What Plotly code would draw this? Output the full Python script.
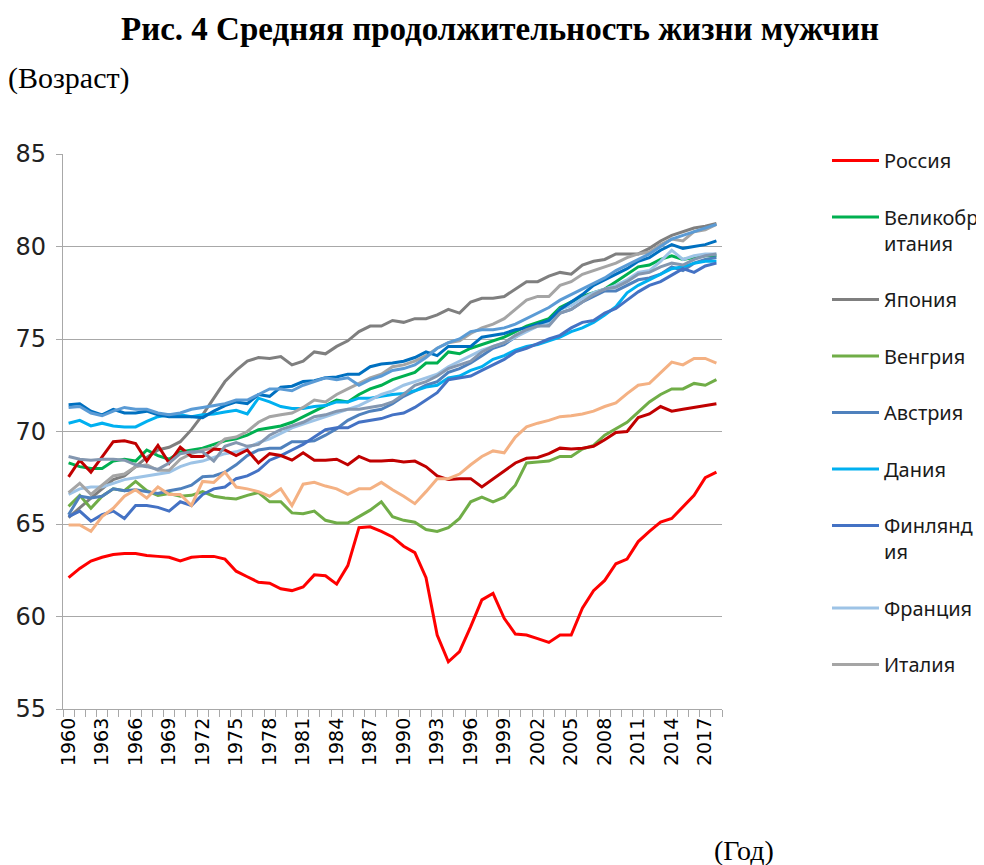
import plotly.graph_objects as go

years = list(range(1960, 2019))

russia = [62.1, 62.6, 63.0, 63.2, 63.35, 63.4, 63.4, 63.3, 63.25, 63.2,
          63.0, 63.2, 63.25, 63.25, 63.1, 62.45, 62.15, 61.85, 61.8, 61.5,
          61.4, 61.6, 62.25, 62.2, 61.75, 62.75, 64.8, 64.85, 64.6, 64.3,
          63.8, 63.45, 62.1, 59.0, 57.55, 58.1, 59.45, 60.9, 61.25, 59.9,
          59.05, 59.0, 58.8, 58.6, 59.0, 59.0, 60.45, 61.4, 61.95, 62.85,
          63.1, 64.05, 64.6, 65.1, 65.3, 65.9, 66.55, 67.5, 67.8]
uk = [68.3, 68.1, 68.0, 68.0, 68.4, 68.5, 68.4, 69.0, 68.7, 68.5,
      68.9, 69.0, 69.1, 69.3, 69.5, 69.6, 69.8, 70.1, 70.2, 70.3,
      70.5, 70.8, 71.1, 71.4, 71.7, 71.6, 72.0, 72.3, 72.5, 72.8,
      73.0, 73.2, 73.7, 73.7, 74.3, 74.2, 74.5, 74.7, 74.9, 75.1,
      75.4, 75.7, 75.9, 76.1, 76.7, 77.0, 77.3, 77.5, 77.7, 78.1,
      78.5, 78.9, 79.0, 79.3, 79.5, 79.3, 79.4, 79.5, 79.5]
japan = [65.35, 65.9, 66.4, 66.9, 67.4, 67.6, 68.1, 68.6, 69.0, 69.15,
         69.45, 70.1, 70.9, 71.8, 72.7, 73.3, 73.8, 74.0, 73.95, 74.05,
         73.6, 73.8, 74.3, 74.2, 74.6, 74.9, 75.4, 75.7, 75.7, 76.0,
         75.9, 76.1, 76.1, 76.3, 76.6, 76.4, 77.0, 77.2, 77.2, 77.3,
         77.7, 78.1, 78.1, 78.4, 78.6, 78.5, 79.0, 79.2, 79.3, 79.6,
         79.6, 79.6, 79.9, 80.3, 80.6, 80.8, 81.0, 81.1, 81.25]
hungary = [65.95, 66.55, 65.85, 66.5, 66.9, 66.8, 67.3, 66.8, 66.55, 66.65,
           66.5, 66.55, 66.75, 66.5, 66.4, 66.35, 66.55, 66.7, 66.2, 66.2,
           65.6, 65.55, 65.7, 65.2, 65.05, 65.05, 65.4, 65.75, 66.2, 65.4,
           65.2, 65.1, 64.7, 64.6, 64.8, 65.3, 66.2, 66.45, 66.2, 66.45,
           67.1, 68.3, 68.35, 68.4, 68.65, 68.65, 69.05, 69.25, 69.8, 70.15,
           70.5, 71.05, 71.6, 72.0, 72.3, 72.3, 72.6, 72.5, 72.8]
austria = [65.5, 66.5, 66.4, 66.5, 66.9, 66.8, 66.85, 66.75, 66.65, 66.8,
           66.9, 67.1, 67.55, 67.6, 67.8, 68.2, 68.7, 69.0, 69.1, 69.1,
           69.45, 69.45, 69.5, 69.8, 70.15, 70.6, 70.9, 71.1, 71.2, 71.5,
           71.9, 72.2, 72.5, 72.7, 73.2, 73.4, 73.7, 74.1, 74.5, 74.7,
           75.1, 75.5, 75.7, 75.8, 76.4, 76.6, 77.0, 77.3, 77.6, 77.6,
           77.9, 78.2, 78.3, 78.5, 78.9, 78.7, 79.1, 79.3, 79.4]
denmark = [70.45, 70.6, 70.3, 70.45, 70.3, 70.25, 70.25, 70.55, 70.8, 70.9,
           70.9, 70.8, 70.9, 70.95, 71.05, 71.15, 70.95, 71.8, 71.6, 71.35,
           71.25, 71.25, 71.35, 71.4, 71.6, 71.6, 71.8, 71.8, 71.9, 72.0,
           72.05, 72.2, 72.4, 72.5, 72.9, 73.0, 73.3, 73.5, 73.9, 74.1,
           74.4, 74.6, 74.7, 74.9, 75.1, 75.4, 75.6, 75.9, 76.3, 76.75,
           77.5, 77.9, 78.2, 78.5, 78.8, 78.9, 79.1, 79.2, 79.2]
finland = [65.4, 65.7, 65.15, 65.5, 65.7, 65.3, 66.0, 66.0, 65.9, 65.7,
           66.2, 66.0, 66.6, 66.9, 67.0, 67.45, 67.6, 67.9, 68.45, 68.7,
           69.0, 69.3, 69.7, 70.1, 70.2, 70.2, 70.5, 70.6, 70.7, 70.9,
           71.0, 71.3, 71.7, 72.1, 72.8, 72.9, 73.0, 73.3, 73.6, 73.9,
           74.3, 74.5, 74.75, 75.0, 75.2, 75.6, 75.9, 76.0, 76.4, 76.65,
           77.1, 77.55, 77.9, 78.1, 78.45, 78.8, 78.6, 78.95, 79.1]
france = [66.6, 66.9, 67.0, 67.0, 67.2, 67.4, 67.5, 67.6, 67.7, 67.8,
          68.1, 68.3, 68.4, 68.6, 68.8, 68.9, 69.1, 69.4, 69.6, 69.9,
          70.2, 70.4, 70.6, 70.8, 71.0, 71.2, 71.4, 71.7, 72.0, 72.2,
          72.5, 72.7, 72.9, 73.1, 73.5, 73.8, 74.1, 74.4, 74.6, 74.8,
          75.1, 75.4, 75.7, 75.9, 76.6, 76.8, 77.2, 77.5, 77.7, 77.9,
          78.2, 78.6, 78.7, 79.2, 79.8, 79.3, 79.5, 79.6, 79.6]
italy = [66.7, 67.2, 66.6, 67.1, 67.6, 67.7, 68.1, 68.2, 67.9, 67.9,
         68.5, 68.8, 69.0, 69.1, 69.6, 69.7, 70.0, 70.5, 70.8, 70.9,
         71.0, 71.3, 71.7, 71.6, 72.0, 72.3, 72.6, 72.9, 73.1, 73.5,
         73.6, 73.8, 74.1, 74.5, 74.8, 74.9, 75.3, 75.6, 75.8, 76.1,
         76.6, 77.1, 77.3, 77.3, 77.9, 78.1, 78.5, 78.7, 78.9, 79.1,
         79.4, 79.6, 79.7, 80.1, 80.4, 80.3, 80.8, 80.9, 81.2]
bulgaria = [67.55, 68.45, 67.8, 68.6, 69.45, 69.5, 69.35, 68.4, 69.25, 68.3,
            69.15, 68.65, 68.65, 69.05, 69.0, 68.7, 69.0, 68.3, 68.8, 68.7,
            68.45, 68.85, 68.45, 68.45, 68.5, 68.2, 68.65, 68.4, 68.4, 68.45,
            68.35, 68.4, 68.1, 67.6, 67.4, 67.45, 67.45, 67.0, 67.45, 67.9,
            68.3, 68.55, 68.6, 68.8, 69.1, 69.05, 69.1, 69.2, 69.55, 69.95,
            70.0, 70.75, 70.95, 71.35, 71.1, 71.2, 71.3, 71.4, 71.5]
poland = [64.95, 64.95, 64.6, 65.4, 65.85, 66.5, 66.85, 66.4, 67.0, 66.6,
          66.6, 66.0, 67.3, 67.25, 67.8, 67.0, 66.9, 66.75, 66.5, 66.9,
          66.0, 67.15, 67.25, 67.05, 66.9, 66.6, 66.9, 66.9, 67.25, 66.85,
          66.5, 66.1, 66.75, 67.45, 67.45, 67.7, 68.2, 68.65, 68.95, 68.85,
          69.7, 70.25, 70.45, 70.6, 70.8, 70.85, 70.95, 71.1, 71.35, 71.55,
          72.05, 72.5, 72.6, 73.15, 73.75, 73.6, 73.95, 73.95, 73.7]
netherlands = [71.45, 71.5, 71.1, 70.9, 71.2, 71.0, 71.0, 71.1, 70.9, 70.8,
               70.8, 70.8, 70.75, 71.1, 71.4, 71.6, 71.5, 72.0, 71.9, 72.4,
               72.45, 72.7, 72.75, 72.9, 72.95, 73.1, 73.1, 73.5, 73.65, 73.7,
               73.8, 74.0, 74.3, 74.1, 74.6, 74.6, 74.6, 75.1, 75.2, 75.3,
               75.5, 75.6, 75.8, 76.0, 76.6, 77.0, 77.4, 77.9, 78.2, 78.5,
               78.8, 79.2, 79.4, 79.8, 80.1, 79.9, 80.0, 80.1, 80.3]
sweden = [71.3, 71.35, 71.0, 70.85, 71.1, 71.3, 71.2, 71.2, 71.0, 70.9,
          71.0, 71.2, 71.3, 71.4, 71.5, 71.7, 71.7, 72.0, 72.3, 72.3,
          72.2, 72.5, 72.7, 72.9, 72.8, 72.9, 72.5, 72.8, 73.0, 73.3,
          73.4, 73.6, 74.0, 74.5, 74.8, 75.0, 75.4, 75.5, 75.5, 75.6,
          75.8, 76.1, 76.4, 76.7, 77.1, 77.4, 77.7, 78.0, 78.3, 78.7,
          79.0, 79.3, 79.6, 80.0, 80.4, 80.6, 80.8, 81.0, 81.2]
switzerland = [68.65, 68.5, 68.45, 68.5, 68.5, 68.45, 68.2, 68.1, 67.95, 68.3,
               68.8, 68.9, 68.9, 68.4, 69.2, 69.4, 69.2, 69.3, 69.8, 70.1,
               70.3, 70.5, 70.8, 70.9, 71.1, 71.2, 71.2, 71.3, 71.4, 71.6,
               72.0, 72.5, 72.7, 73.0, 73.4, 73.6, 73.8, 74.3, 74.6, 74.8,
               75.2, 75.5, 75.7, 75.7, 76.4, 76.6, 77.0, 77.4, 77.7, 77.8,
               78.1, 78.5, 78.6, 78.9, 79.1, 79.0, 79.3, 79.5, 79.6]

legend_series = [
    ("Россия", russia, "#FF0000"),
    ("Великобр<br>итания", uk, "#00B050"),
    ("Япония", japan, "#7F7F7F"),
    ("Венгрия", hungary, "#70AD47"),
    ("Австрия", austria, "#4F81BD"),
    ("Дания", denmark, "#00B0F0"),
    ("Финлянд<br>ия", finland, "#4472C4"),
    ("Франция", france, "#9DC3E6"),
    ("Италия", italy, "#A5A5A5"),
]
extra_series = [
    ("Болгария", bulgaria, "#C00000"),
    ("Польша", poland, "#F4B183"),
    ("Нидерланды", netherlands, "#0070C0"),
    ("Швеция", sweden, "#5B9BD5"),
    ("Швейцария", switzerland, "#8497B0"),
]

xtick_years = [1960, 1963, 1966, 1969, 1972, 1975, 1978, 1981, 1984, 1987,
               1990, 1993, 1996, 1999, 2002, 2005, 2008, 2011, 2014, 2017]

fig = go.Figure()
for name, vals, col in legend_series:
    fig.add_trace(go.Scatter(x=years, y=vals, mode="lines", name=name,
                             legendgroup=name,
                             line=dict(color=col, width=3)))
for name, vals, col in extra_series:
    fig.add_trace(go.Scatter(x=years, y=vals, mode="lines", name=name,
                             showlegend=False,
                             line=dict(color=col, width=3)))

# page body has an 8px offset; positions below are in figure coordinates
W, H = 984, 865
L, R, T, B = 55, 270, 146, 164
pw, ph = W - L - R, H - T - B

def px(xw):
    return (xw - 8 - L) / pw

def py(yw):
    return (H - B - (yw - 8)) / ph

grid = "#A8A8A8"
fig.update_layout(
    width=W, height=H,
    margin=dict(l=L, r=R, t=T, b=B, autoexpand=False),
    paper_bgcolor="white", plot_bgcolor="white",
    showlegend=True,
    title=dict(text="<b>Рис. 4 Средняя продолжительность жизни мужчин</b>",
               x=0.5, xanchor="center", y=1 - 20 / H, yanchor="middle",
               font=dict(family="Liberation Serif", size=33, color="black")),
    legend=dict(x=px(827), xanchor="left",
                y=py(684), yanchor="bottom",
                font=dict(family="Noto Sans", size=20, color="#1A1A1A"),
                tracegroupgap=27.5, valign="top", itemwidth=47,
                bgcolor="rgba(0,0,0,0)"),
    xaxis=dict(range=[1959.5, 2018.5], tickmode="array",
               tickvals=xtick_years, ticktext=[str(y) for y in xtick_years],
               tickangle=-90, ticks="", showgrid=False, zeroline=False,
               showline=True, linecolor=grid, linewidth=1.3,
               tickfont=dict(family="DejaVu Sans", size=19, color="black"),
               minor=dict(ticks="outside", tickmode="linear", tick0=1959.5,
                          dtick=1, ticklen=7, tickcolor=grid, tickwidth=1,
                          showgrid=False)),
    yaxis=dict(range=[55, 85], tickmode="linear", tick0=55, dtick=5,
               showgrid=True, gridcolor=grid, gridwidth=1.3,
               showline=True, linecolor=grid, linewidth=1.3,
               zeroline=False, ticks="outside", ticklen=6, tickcolor=grid,
               ticklabelstandoff=5,
               tickfont=dict(family="DejaVu Sans", size=24, color="#222222")),
    annotations=[
        dict(text="(Возраст)", xref="paper", yref="paper",
             x=px(6), y=py(78), xanchor="left",
             yanchor="middle", showarrow=False,
             font=dict(family="Liberation Serif", size=30, color="black")),
        dict(text="(Год)", xref="paper", yref="paper",
             x=px(744), y=py(850), xanchor="center",
             yanchor="middle", showarrow=False,
             font=dict(family="Liberation Serif", size=28, color="black")),
    ],
)

fig.write_html("out.html")
